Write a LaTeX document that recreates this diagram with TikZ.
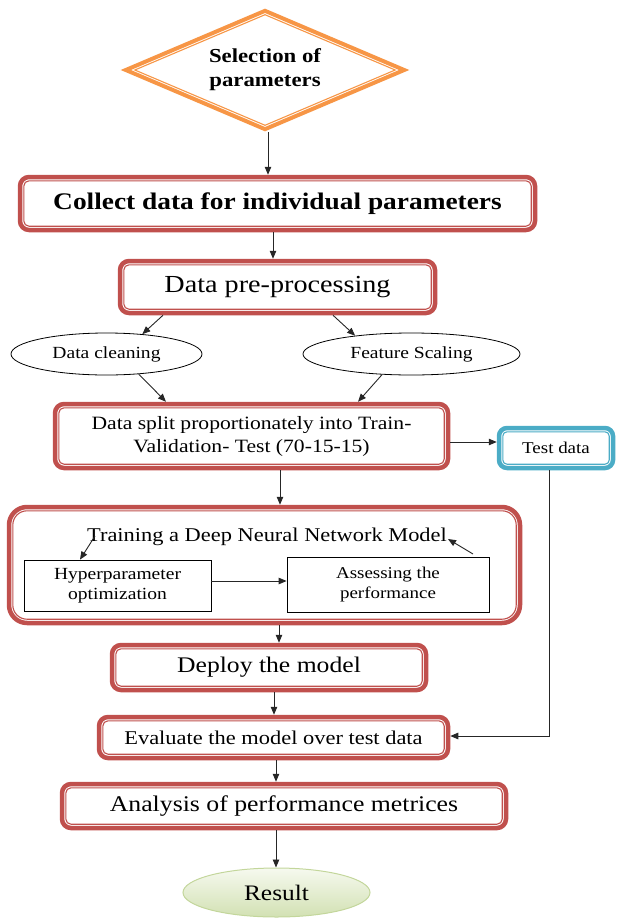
\documentclass[tikz,border=0pt]{standalone}
\usepackage{fontspec}
\setmainfont{Liberation Serif}[FakeStretch=1.15]
\usetikzlibrary{shapes.geometric,arrows.meta}
\definecolor{boxred}{HTML}{C0504D}
\definecolor{boxblue}{HTML}{4BACC6}
\definecolor{boxorange}{HTML}{F79646}
\definecolor{resfillA}{HTML}{F6F9EF}
\definecolor{resfillB}{HTML}{D2E1B3}
\definecolor{resline}{HTML}{C3D69B}
\tikzset{
  dbox/.style n args={3}{rectangle, rounded corners=#2, draw=#1, line width=4.5pt,
    fill=white, inner sep=0pt, align=center,
    path picture={\draw[#1, line width=1.1pt, rounded corners=#3]
      ([xshift=3.8pt,yshift=3.8pt]path picture bounding box.south west) rectangle
      ([xshift=-3.8pt,yshift=-3.8pt]path picture bounding box.north east);}},
  diam/.style={diamond, aspect=2.29, draw=boxorange, line width=4pt, fill=white,
    inner sep=0pt, align=center, minimum width=280pt, minimum height=120pt,
    path picture={\draw[boxorange, line width=1.1pt]
      ([yshift=-3.9pt]path picture bounding box.north) --
      ([xshift=-9pt]path picture bounding box.east) --
      ([yshift=3.9pt]path picture bounding box.south) --
      ([xshift=9pt]path picture bounding box.west) -- cycle;}},
  thinbox/.style={rectangle, draw=black, line width=0.8pt, fill=white, inner sep=0pt, align=center},
  thinell/.style={ellipse, draw=black, line width=0.8pt, fill=white, inner sep=0pt},
  resell/.style={ellipse, draw=resline, line width=1pt, top color=resfillA, bottom color=resfillB, inner sep=0pt},
  arr/.style={-{Triangle[length=8pt,width=6.5pt]}, line width=0.9pt, draw=black!85},
}
\begin{document}
\begin{tikzpicture}[x=1pt,y=-1pt]
\useasboundingbox (0,0) rectangle (616,918);

% diamond
\node[diam, font=\bfseries\fontsize{19.8}{24}\selectfont] (sel) at (265,70) {Selection of\\parameters};

% main boxes
\node[dbox={boxred}{9pt}{5.2pt}, minimum width=515pt, minimum height=53pt,
  font=\bfseries\fontsize{23.8}{28}\selectfont] (collect) at (277.5,203.5) {Collect data for individual parameters};
\node[dbox={boxred}{9pt}{5.2pt}, minimum width=315pt, minimum height=52pt,
  font=\fontsize{24.5}{28}\selectfont] (preproc) at (277.5,287) {Data pre-processing};

\node[thinell, minimum width=191pt, minimum height=42pt, font=\fontsize{17}{20}\selectfont] (clean) at (106.5,354) {Data cleaning};
\node[thinell, minimum width=217pt, minimum height=42pt, font=\fontsize{17}{20}\selectfont] (fs) at (411.5,354) {Feature Scaling};

\node[dbox={boxred}{9pt}{5.2pt}, minimum width=393pt, minimum height=64pt,
  font=\fontsize{18.8}{23}\selectfont] (split) at (251.5,436) {Data split proportionately into Train-\\Validation- Test (70-15-15)};
\node[dbox={boxblue}{8pt}{4.2pt}, minimum width=114pt, minimum height=40pt,
  font=\fontsize{16.5}{20}\selectfont] (test) at (556,448) {Test data};

% training
\node[dbox={boxred}{18pt}{14.2pt}, minimum width=511pt, minimum height=116pt] (train) at (264.5,565) {};
\node[inner sep=0pt, font=\fontsize{19.5}{23}\selectfont] (ttl) at (267,537) {Training a Deep Neural Network Model};
\node[thinbox, minimum width=187pt, minimum height=51pt, font=\fontsize{17}{20}\selectfont] (hyp) at (117.5,585.5) {Hyperparameter\\optimization};
\node[thinbox, minimum width=202pt, minimum height=55pt, font=\fontsize{16.5}{20}\selectfont] (assess) at (388,584.5) {Assessing the\\performance};
\coordinate (tA) at (95,536);
\coordinate (tB) at (473,554);
\coordinate (tC) at (448,539);

\node[dbox={boxred}{9pt}{5.2pt}, minimum width=314pt, minimum height=45pt,
  font=\fontsize{22.3}{26}\selectfont] (deploy) at (269,667.5) {Deploy the model};
\node[dbox={boxred}{9pt}{5.2pt}, minimum width=349pt, minimum height=41pt,
  font=\fontsize{19.5}{23}\selectfont] (eval) at (273.5,737.5) {Evaluate the model over test data};
\node[dbox={boxred}{9pt}{5.2pt}, minimum width=444pt, minimum height=44pt,
  font=\fontsize{22.4}{26}\selectfont] (analysis) at (284,806) {Analysis of performance metrices};
\node[resell, minimum width=187pt, minimum height=49pt, font=\fontsize{22.1}{26}\selectfont] (result) at (276.5,892.5) {Result};

% connectors
\draw[arr] ([xshift=3pt]sel.south) -- ([xshift=3pt]sel.south |- collect.north);
\draw[arr] ([xshift=-4.5pt]collect.south) -- ([xshift=-4.5pt]preproc.north);
\draw[arr] ([xshift=-114.5pt]preproc.south) -- (clean.29);
\draw[arr] ([xshift=55.5pt]preproc.south) -- (fs.162);
\draw[arr] (clean.-32) -- ([xshift=-85.5pt]split.north);
\draw[arr] (fs.215) -- ([xshift=106.5pt]split.north);
\draw[arr] ([yshift=-6pt]split.east) -- ([yshift=-6pt]split.east -| test.west);
\draw[arr] ([xshift=28.5pt]split.south) -- ([xshift=28.5pt]split.south |- train.north);
\draw[arr] (tA) -- ([xshift=-37.5pt]hyp.north);
\draw[arr] ([yshift=4.5pt]hyp.east) -- ([yshift=4.5pt]hyp.east -| assess.west);
\draw[arr] (tB) -- (tC);
\draw[arr] ([xshift=14.5pt]train.south) -- ([xshift=14.5pt]train.south |- deploy.north);
\draw[arr] ([xshift=5pt]deploy.south) -- ([xshift=5pt]deploy.south |- eval.north);
\draw[arr] ([xshift=2.5pt]eval.south) -- ([xshift=2.5pt]eval.south |- analysis.north);
\draw[arr] ([xshift=-8pt]analysis.south) -- ([xshift=-8pt]analysis.south |- result.north);
\draw[arr] ([xshift=-7pt]test.south) |- ([yshift=1.5pt]eval.east);
\end{tikzpicture}
\end{document}
